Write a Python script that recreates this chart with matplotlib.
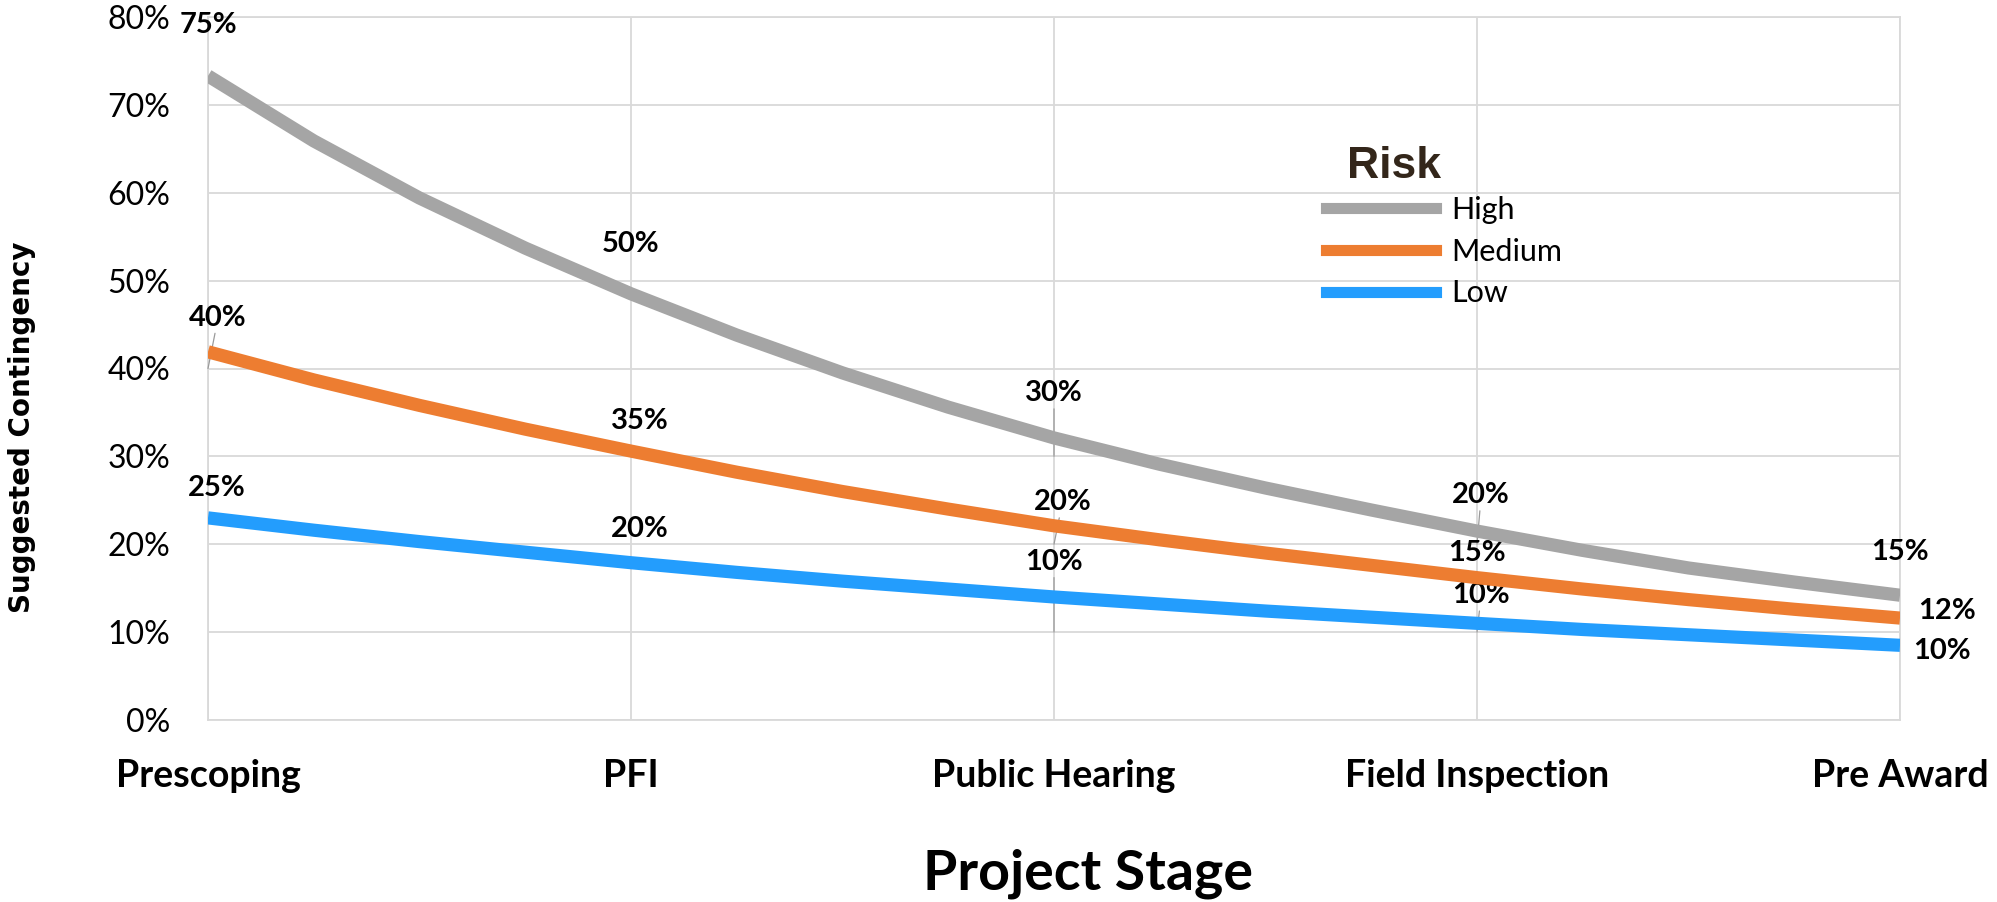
import matplotlib
matplotlib.use("Agg")
import matplotlib.pyplot as plt
from matplotlib.lines import Line2D
from matplotlib.ticker import FuncFormatter

# categories and labelled contingency values
STAGES = ["Prescoping", "PFI", "Public Hearing", "Field Inspection", "Pre Award"]
HIGH = [75, 50, 30, 20, 15]
MEDIUM = [40, 35, 20, 15, 12]
LOW = [25, 20, 10, 10, 10]

# trend curves, every quarter stage
TREND_X = [0, 0.25, 0.5, 0.75, 1, 1.25, 1.5, 1.75, 2,
           2.25, 2.5, 2.75, 3, 3.25, 3.5, 3.75, 4]
HIGH_TREND = [73.3, 65.9, 59.4, 53.7, 48.5, 43.8, 39.5, 35.6, 32.1,
              29.1, 26.4, 23.9, 21.5, 19.3, 17.3, 15.7, 14.2]
MEDIUM_TREND = [41.9, 38.7, 35.8, 33.1, 30.6, 28.2, 26.0, 24.0, 22.1,
                20.5, 19.0, 17.6, 16.2, 14.9, 13.7, 12.6, 11.6]
LOW_TREND = [23.0, 21.6, 20.3, 19.1, 17.9, 16.8, 15.8, 14.9, 14.0,
             13.2, 12.4, 11.7, 11.0, 10.3, 9.7, 9.1, 8.5]

# where each data label sits (stage, percent) and whether it has a leader line
HIGH_LABEL_AT = [(0.0, 79.1), (1.0, 54.2), (2.0, 37.2), (3.01, 25.6), (4.0, 19.1)]
MEDIUM_LABEL_AT = [(0.024, 45.8), (1.02, 34.0), (2.02, 24.8), (3.0, 19.0), (4.11, 12.4)]
LOW_LABEL_AT = [(0.02, 26.4), (1.02, 21.7), (2.0, 18.0), (3.01, 14.2), (4.10, 7.85)]
HIGH_LEADER = [False, False, True, True, False]
MEDIUM_LEADER = [True, False, True, False, False]
LOW_LEADER = [False, False, True, True, False]

GRAY = "#a5a5a5"
ORANGE = "#ed7d31"
BLUE = "#239dfd"
GRID = "#d9d9d9"

W, H = 1997, 902
fig = plt.figure(figsize=(W / 100, H / 100), dpi=100)
ax = fig.add_axes([208 / W, 1 - 720 / H, (1900 - 208) / W, (720 - 17) / H])

series = [
    ("High", GRAY, HIGH, HIGH_TREND, HIGH_LABEL_AT, HIGH_LEADER),
    ("Medium", ORANGE, MEDIUM, MEDIUM_TREND, MEDIUM_LABEL_AT, MEDIUM_LEADER),
    ("Low", BLUE, LOW, LOW_TREND, LOW_LABEL_AT, LOW_LEADER),
]

for name, color, vals, trend, label_at, leader in series:
    ax.plot(TREND_X, trend, color=color, lw=9.5, solid_capstyle="butt",
            solid_joinstyle="round", zorder=4)
    for i, v in enumerate(vals):
        lx, ly = label_at[i]
        arrow = None
        if leader[i]:
            arrow = dict(arrowstyle="-", color="#9a9a9a", lw=0.9,
                         shrinkA=0, shrinkB=0)
        ax.annotate(f"{v}%", xy=(i, v), xytext=(lx, ly), textcoords="data",
                    ha="center", va="center", fontsize=21, fontweight="bold",
                    family="Lato", color="black", arrowprops=arrow,
                    annotation_clip=False, zorder=3)

ax.set_xlim(0, 4)
ax.set_ylim(0, 80)
ax.set_xticks(range(len(STAGES)))
ax.set_xticklabels(STAGES, fontsize=27, fontweight="bold", family="Lato")
ax.set_yticks(range(0, 81, 10))
ax.yaxis.set_major_formatter(FuncFormatter(lambda v, p: f"{v:.0f}%"))
for t in ax.get_yticklabels():
    t.set_fontsize(23)
    t.set_family("Lato")
ax.tick_params(axis="both", length=0)
ax.tick_params(axis="x", pad=28)
ax.tick_params(axis="y", pad=27)
ax.grid(True, color=GRID, lw=1.3)
ax.set_axisbelow(True)
for s in ax.spines.values():
    s.set_color(GRID)
    s.set_linewidth(1.3)

fig.text(22 / W, 1 - 427 / H, "Suggested Contingency", rotation=90,
         ha="center", va="center", fontsize=20, fontweight="bold",
         family="DejaVu Sans")
fig.text(1088 / W, 1 - 874 / H, "Project Stage", ha="center", va="center",
         fontsize=40, fontweight="bold", family="Lato")

handles = [Line2D([], [], color=c, lw=8) for _, c, *_ in series]
leg = ax.legend(handles, [n for n, *_ in series], loc="upper left",
                bbox_to_anchor=(1326 / W, 1 - 196 / H),
                bbox_transform=fig.transFigure, frameon=False,
                prop=dict(family="Lato", size=22), handlelength=3.6,
                handletextpad=0.5, labelspacing=0.45, borderpad=0,
                borderaxespad=0)
fig.text(1394 / W, 1 - 166 / H, "Risk", ha="center", va="center",
         fontsize=32, fontweight="bold", family="Liberation Sans",
         color="#33261a")

fig.savefig("out.png", dpi=100)
